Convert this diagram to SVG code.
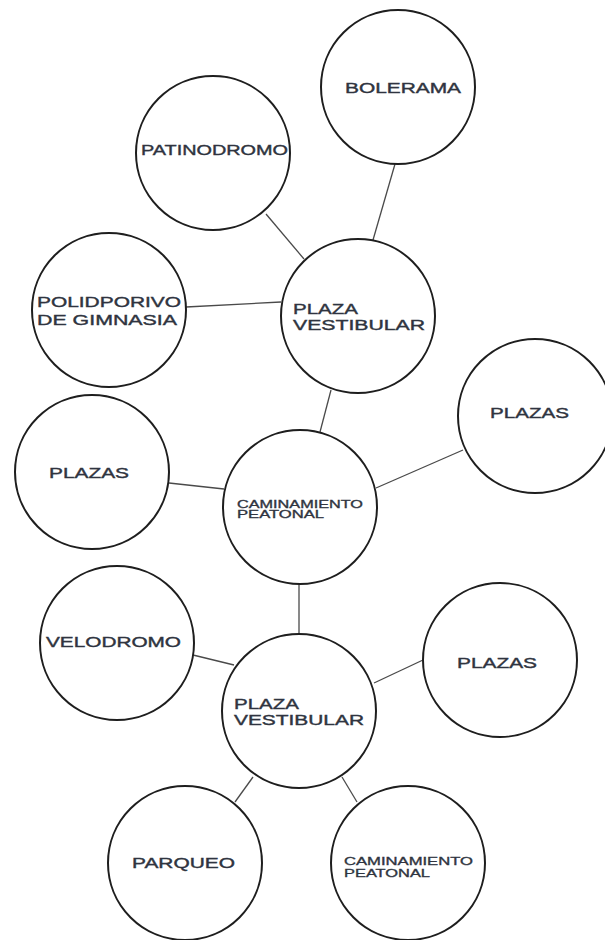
<svg xmlns="http://www.w3.org/2000/svg" width="605" height="940" viewBox="0 0 605 940">
<style>
.n{fill:#fff;stroke:#1e1e1e;stroke-width:2}
.c line{stroke:#4a4a4a;stroke-width:1.3}
text{font-family:"Liberation Sans",Arial,sans-serif;fill:#2f3440;stroke:#2f3440;stroke-width:0.4;font-size:15px}
.s{font-size:10px;stroke-width:0.3}
</style>
<rect width="605" height="940" fill="#fff"/>
<g id="connectors" class="c">
<line x1="266" y1="214" x2="304" y2="259"/>
<line x1="395" y1="164" x2="373" y2="240"/>
<line x1="186" y1="307" x2="281" y2="302"/>
<line x1="331" y1="390" x2="320" y2="432"/>
<line x1="169" y1="483" x2="224" y2="489"/>
<line x1="376" y1="488" x2="463" y2="450"/>
<line x1="299" y1="584" x2="299" y2="634"/>
<line x1="193" y1="655" x2="234" y2="665"/>
<line x1="374" y1="683" x2="423" y2="660"/>
<line x1="253" y1="777" x2="235" y2="802"/>
<line x1="342" y1="777" x2="357" y2="802"/>
</g>
<g id="bolerama"><circle class="n" cx="398" cy="87" r="77"/><text x="345" y="93" textLength="116" lengthAdjust="spacingAndGlyphs">BOLERAMA</text></g>
<g id="patinodromo"><circle class="n" cx="213" cy="153" r="77"/><text x="141" y="155" textLength="147" lengthAdjust="spacingAndGlyphs">PATINODROMO</text></g>
<g id="polideportivo"><circle class="n" cx="109" cy="310" r="77"/><text x="37" y="307" textLength="144" lengthAdjust="spacingAndGlyphs">POLIDPORIVO</text><text x="37" y="325" textLength="140" lengthAdjust="spacingAndGlyphs">DE GIMNASIA</text></g>
<g id="plaza-vestibular-1"><circle class="n" cx="358" cy="316" r="77"/><text x="293" y="314" textLength="65" lengthAdjust="spacingAndGlyphs">PLAZA</text><text x="293" y="330" textLength="132" lengthAdjust="spacingAndGlyphs">VESTIBULAR</text></g>
<g id="plazas-1"><circle class="n" cx="535" cy="416" r="77"/><text x="490" y="418" textLength="79" lengthAdjust="spacingAndGlyphs">PLAZAS</text></g>
<g id="plazas-2"><circle class="n" cx="92" cy="472" r="77"/><text x="49" y="478" textLength="80" lengthAdjust="spacingAndGlyphs">PLAZAS</text></g>
<g id="caminamiento-1"><circle class="n" cx="300" cy="507" r="77"/><text class="s" x="237" y="508" textLength="126" lengthAdjust="spacingAndGlyphs">CAMINAMIENTO</text><text class="s" x="237" y="518" textLength="87" lengthAdjust="spacingAndGlyphs">PEATONAL</text></g>
<g id="velodromo"><circle class="n" cx="117" cy="643" r="77"/><text x="46" y="647" textLength="135" lengthAdjust="spacingAndGlyphs">VELODROMO</text></g>
<g id="plazas-3"><circle class="n" cx="500" cy="660" r="77"/><text x="457" y="668" textLength="80" lengthAdjust="spacingAndGlyphs">PLAZAS</text></g>
<g id="plaza-vestibular-2"><circle class="n" cx="299" cy="711" r="77"/><text x="234" y="709" textLength="65" lengthAdjust="spacingAndGlyphs">PLAZA</text><text x="234" y="725" textLength="130" lengthAdjust="spacingAndGlyphs">VESTIBULAR</text></g>
<g id="parqueo"><circle class="n" cx="185" cy="863" r="77"/><text x="132" y="868" textLength="103" lengthAdjust="spacingAndGlyphs">PARQUEO</text></g>
<g id="caminamiento-2"><circle class="n" cx="408" cy="863" r="77"/><text class="s" x="344" y="865" textLength="129" lengthAdjust="spacingAndGlyphs">CAMINAMIENTO</text><text class="s" x="344" y="877" textLength="86" lengthAdjust="spacingAndGlyphs">PEATONAL</text></g>
</svg>
